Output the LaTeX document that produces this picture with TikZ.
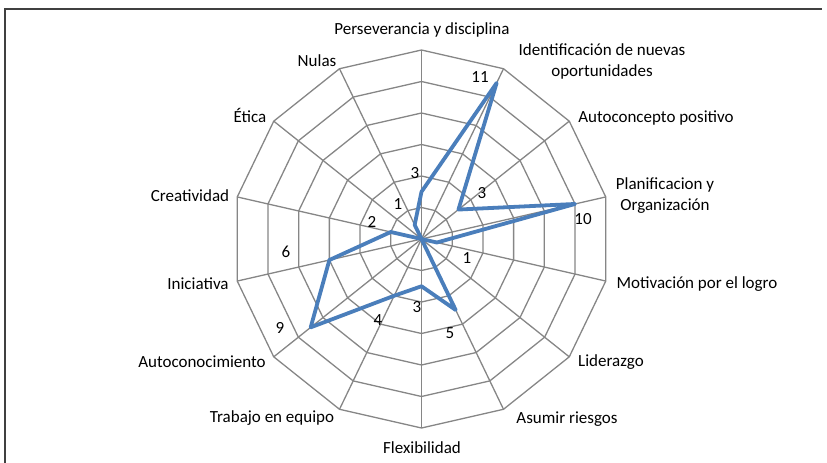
\documentclass[tikz,border=0pt]{standalone}
\usepackage{fontspec}
\setmainfont{Carlito}
\definecolor{gridgray}{HTML}{868686}
\definecolor{serieblue}{HTML}{4A7EBB}
\definecolor{framegray}{HTML}{404040}
\begin{document}
\begin{tikzpicture}[x=1pt,y=-1pt,
  gridline/.style={draw=gridgray, line width=1.3pt, line join=miter},
  series/.style={draw=serieblue, line width=3.8pt, line join=round},
  cat/.style={font=\fontsize{17}{21}\selectfont, inner sep=0pt, anchor=base, align=center},
  cattwo/.style={font=\fontsize{17}{21}\selectfont, inner sep=0pt, anchor=center, align=center},
  val/.style={font=\fontsize{17}{21}\selectfont, inner sep=0pt, anchor=center}]
\useasboundingbox (0,0) rectangle (827,463);
\def\cx{421.5}
\def\cy{239}
\def\R{189}
% frame
\draw[framegray, line width=2pt] (5,470) -- (5,9) -- (822,9);
% grid rings
\foreach \k in {1,...,6} {
  \draw[gridline] ({\cx},{\cy-\k*\R/6})
    \foreach \i in {1,...,13} { -- ({\cx+\k*\R/6*sin(\i*360/14)},{\cy-\k*\R/6*cos(\i*360/14)}) } -- cycle;
}
% spokes
\coordinate (c) at (\cx,\cy);
\foreach \i in {0,...,13} {
  \coordinate (o\i) at ({\cx+\R*sin(\i*360/14)},{\cy-\R*cos(\i*360/14)});
  \draw[gridline] (c) -- (o\i);
}
% data points
\foreach \v [count=\n from 0] in {3,11,3,10,1,0,5,3,4,9,6,2,0,1} {
  \coordinate (p\n) at ({\cx+\v*\R/12*sin(\n*360/14)},{\cy-\v*\R/12*cos(\n*360/14)});
}
\draw[series] (p0) -- (p1) -- (p2) -- (p3) -- (p4) -- (p5) -- (p6) -- (p7)
  -- (p8) -- (p9) -- (p10) -- (p11) -- (p12) -- (p13) -- cycle;
% category labels
\node[cat] (l0) at (422,34) {Perseverancia y disciplina};
\node[cattwo] (l1) at (602,61) {Identificación de nuevas\\oportunidades};
\node[cat] (l2) at (656,122) {Autoconcepto positivo};
\node[cattwo] (l3) at (665,196) {Planificacion y\\Organización};
\node[cat] (l4) at (697,288) {Motivación por el logro};
\node[cat] (l5) at (611,366) {Liderazgo};
\node[cat] (l6) at (567,423) {Asumir riesgos};
\node[cat] (l7) at (422,453) {Flexibilidad};
\node[cat] (l8) at (272,422) {Trabajo en equipo};
\node[cat] (l9) at (202,367) {Autoconocimiento};
\node[cat] (l10) at (198,289) {Iniciativa};
\node[cat] (l11) at (190,201) {Creatividad};
\node[cat] (l12) at (250,122) {Ética};
\node[cat] (l13) at (317,66) {Nulas};
% value labels
\node[val] (v0) at (415,173) {3};
\node[val] (v1) at (480,77) {11};
\node[val] (v2) at (482,193) {3};
\node[val] (v3) at (583,219) {10};
\node[val] (v4) at (467,258) {1};
\node[val] (v6) at (450,333) {5};
\node[val] (v7) at (417,307) {3};
\node[val] (v8) at (378,320) {4};
\node[val] (v9) at (280,328) {9};
\node[val] (v10) at (286,252) {6};
\node[val] (v11) at (372,222) {2};
\node[val] (v13) at (398,204) {1};
\end{tikzpicture}
\end{document}
